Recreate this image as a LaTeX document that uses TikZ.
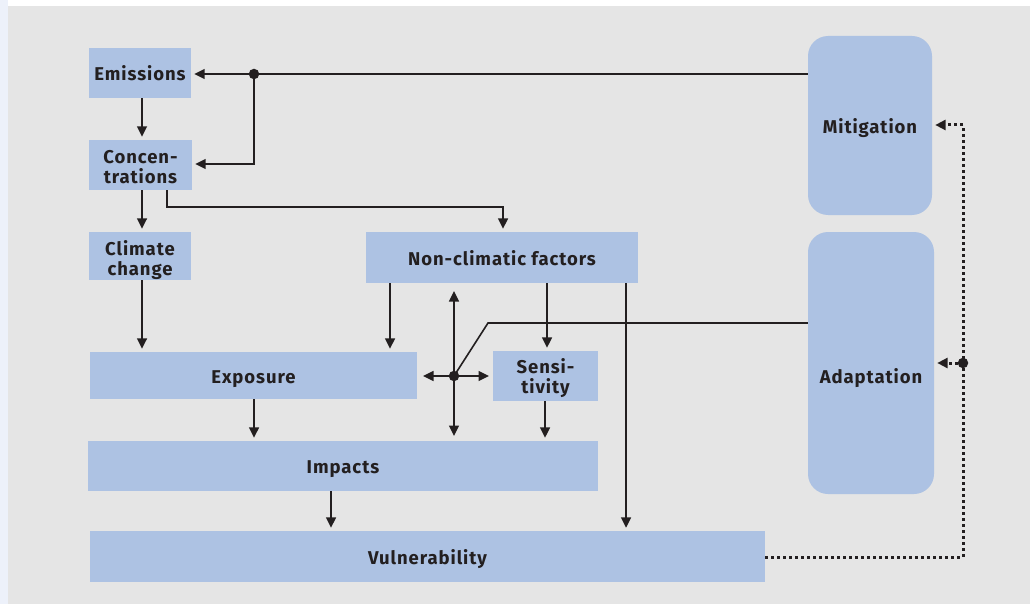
\documentclass[tikz,border=0pt]{standalone}
\usepackage{fontspec}
\setmainfont{Fira Sans}[LetterSpace=5]
\usetikzlibrary{arrows.meta,calc}
\definecolor{boxblue}{HTML}{ADC2E3}
\definecolor{panel}{HTML}{E5E5E5}
\definecolor{strip}{HTML}{EDF1FA}
\definecolor{ink}{HTML}{231F20}
\tikzset{
  boxtext/.style={inner sep=0pt,align=center,
    font=\fontsize{18.5}{20}\selectfont\bfseries,text=ink},
  box/.style={boxtext,fill=boxblue,
    execute at begin node={\rule[-4pt]{0pt}{24pt}}},
  rbox/.style={box,rounded corners=20pt},
  link/.style={draw=ink,line width=1.6pt},
  arr/.style={link,-{Triangle[length=10.5pt,width=10pt]},shorten >=3pt},
  dots/.style={draw=ink,line width=3pt,dash pattern=on 3pt off 3pt},
  darr/.style={dots,-{Triangle[length=10.5pt,width=10pt]},shorten >=3pt},
  hubdot/.style={circle,fill=ink,inner sep=0pt,minimum size=10.5pt},
}
\begin{document}
\begin{tikzpicture}[x=1pt,y=-1pt]
% page and panel
\fill[white] (0,0) rectangle (1030,604);
\fill[strip] (0,0) rectangle (8,604);
\fill[panel] (8,6) rectangle (1030,604);
\useasboundingbox (0,0) rectangle (1030,604);

% boxes
\node[box,minimum width=102pt,minimum height=50pt] (emis) at (140,73) {Emissions};
\node[box,minimum width=103pt,minimum height=50pt,
  label={[boxtext,yshift=-2.5pt]center:{Concen-\\trations}}] (conc) at (140.5,165) {};
\node[box,minimum width=102pt,minimum height=48pt,
  label={[boxtext,yshift=-4.5pt]center:{Climate\\change}}] (clim) at (140,256) {};
\node[box,minimum width=272pt,minimum height=51pt] (nonc) at (502,257.5) {Non-climatic factors};
\node[box,minimum width=327pt,minimum height=47pt] (expo) at (253.5,375.5) {Exposure};
\node[box,minimum width=105pt,minimum height=50pt,
  label={[boxtext,yshift=-2pt]center:{Sensi-\\tivity}}] (sens) at (545.5,376) {};
\node[box,minimum width=510pt,minimum height=50pt] (impa) at (343,466) {Impacts};
\node[box,minimum width=675pt,minimum height=51pt] (vuln) at (427.5,556.5) {Vulnerability};
\node[rbox,minimum width=124pt,minimum height=179pt] (miti) at (870,125.5) {Mitigation};
\node[rbox,minimum width=126pt,minimum height=262pt] (adap) at (871,363) {};
\node[box,fill=none] (adaptxt) at (871,376) {Adaptation};

% mitigation feeds emissions and concentrations
\node[hubdot] (j1) at (254,74) {};
\draw[link] (miti.west |- j1) -- (j1);
\draw[arr] (j1) -- (emis.east |- j1);
\draw[arr] (j1) |- (conc.east |- 0,164);

% main chain
\draw[arr] (emis.south -| 142,0) -- (conc.north -| 142,0);
\draw[arr] (conc.south -| 142,0) -- (clim.north -| 142,0);
\draw[arr] (conc.south -| 167,0) |- (503,207) -- (nonc.north -| 503,0);
\draw[arr] (clim.south -| 142,0) -- (expo.north -| 142,0);
\draw[arr] (nonc.south -| 390,0) -- (expo.north -| 390,0);
\draw[arr] (nonc.south -| 547,0) -- (sens.north -| 547,0);
\draw[arr] (nonc.south -| 626,0) -- (vuln.north -| 626,0);
\draw[arr] (expo.south -| 254,0) -- (impa.north -| 254,0);
\draw[arr] (sens.south -| 545,0) -- (impa.north -| 545,0);
\draw[arr] (impa.south -| 331,0) -- (vuln.north -| 331,0);

% adaptation hub
\node[hubdot] (hub) at (454,376) {};
\coordinate (hubN) at (454,288);
\coordinate (hubS) at (454,439);
\coordinate (hubW) at (420,376);
\coordinate (hubE) at (492,376);
\draw[arr] (hub) -- (hubN);
\draw[arr] (hub) -- (hubS);
\draw[arr] (hub) -- (hubW);
\draw[arr] (hub) -- (hubE);
\coordinate (bend) at (488,323);
\draw[link] (adap.west |- bend) -- (bend) -- (hub.center);

% feedback from vulnerability
\coordinate (fc) at (963,557);
\node[hubdot] (j2) at (963,363) {};
\draw[dots] (vuln.east |- fc) -- (fc) -- (963,125);
\draw[darr] (963,125) -- (miti.east |- 0,125);
\draw[darr] (j2) -- (adap.east |- j2);
\end{tikzpicture}
\end{document}
